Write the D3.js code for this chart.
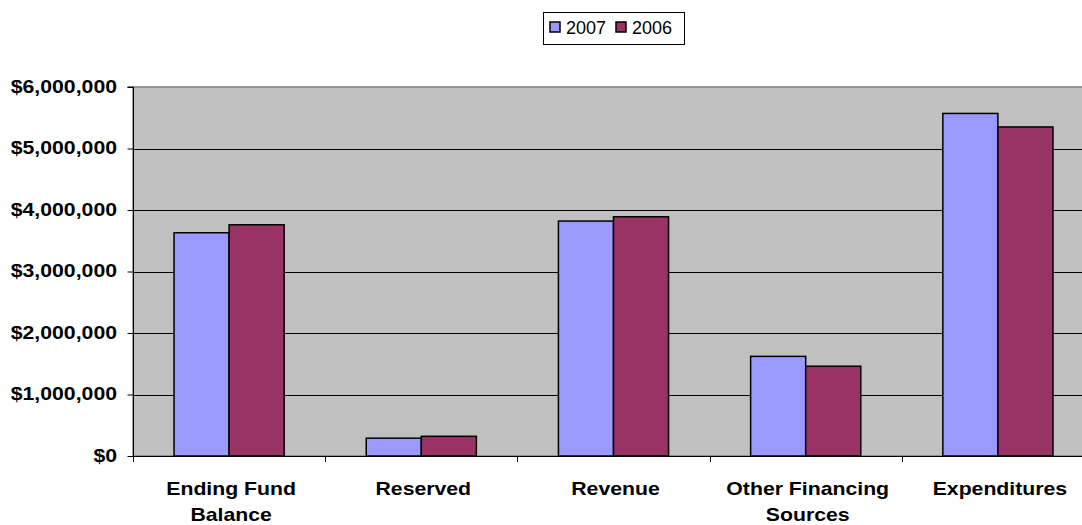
<!DOCTYPE html>
<html>
<head>
<meta charset="utf-8">
<script src="https://cdn.jsdelivr.net/npm/d3@7"></script>
<style>
  body { margin: 0; background: #fff; }
  svg { display: block; font-family: "Liberation Sans", Arial, sans-serif; }
</style>
</head>
<body>
<svg id="chart" width="1082" height="525"></svg>
<script>
const categories = [["Ending Fund", "Balance"], ["Reserved"], ["Revenue"], ["Other Financing", "Sources"], ["Expenditures"]];
const seriesNames = ["2007", "2006"];
const values2007 = [3630000, 290000, 3820000, 1620000, 5570000];
const values2006 = [3760000, 320000, 3890000, 1460000, 5350000];
const yTicks = [0, 1000000, 2000000, 3000000, 4000000, 5000000, 6000000];
const colors = ["#9999FF", "#993366"];

const svg = d3.select("#chart");
const plotLeft = 133, plotRight = 1094, plotTop = 87, plotBottom = 456;
const stretch = 1.18; // labels look horizontally stretched in the original

const x = d3.scaleBand()
    .domain(d3.range(categories.length))
    .range([plotLeft, plotRight])
    .paddingInner(0.427)
    .paddingOuter(0.2135);
const x1 = d3.scaleBand().domain([0, 1]).range([0, x.bandwidth()]);
const y = d3.scaleLinear().domain([0, 6000000]).range([plotBottom, plotTop]);

// plot background
svg.append("rect")
    .attr("x", plotLeft).attr("y", plotTop)
    .attr("width", plotRight - plotLeft).attr("height", plotBottom - plotTop)
    .attr("fill", "#C0C0C0")
    .attr("stroke", "#808080").attr("stroke-width", 1.5);

// gridlines
svg.append("g")
  .selectAll("line")
  .data(yTicks.slice(1, -1))
  .join("line")
    .attr("x1", plotLeft).attr("x2", plotRight)
    .attr("y1", d => Math.round(y(d)) + 0.5).attr("y2", d => Math.round(y(d)) + 0.5)
    .attr("stroke", "#000").attr("stroke-width", 1);

// bars
const rows = categories.map((c, i) => [values2007[i], values2006[i]]);
svg.append("g")
  .selectAll("g")
  .data(rows)
  .join("g")
    .attr("transform", (d, i) => `translate(${x(i)},0)`)
  .selectAll("rect")
  .data(d => d)
  .join("rect")
    .attr("x", (d, j) => x1(j))
    .attr("y", d => y(d))
    .attr("width", x1.bandwidth())
    .attr("height", d => plotBottom - y(d))
    .attr("fill", (d, j) => colors[j])
    .attr("stroke", "#000").attr("stroke-width", 1.5);

// y axis
const yAxis = svg.append("g")
    .attr("transform", `translate(${plotLeft + 0.5},0)`)
    .call(d3.axisLeft(y).tickValues(yTicks).tickSize(6).tickFormat(""));
yAxis.select(".domain").attr("stroke", "#000").attr("d", `M-6,${plotTop}H0V${plotBottom}`);

svg.append("g")
  .selectAll("text")
  .data(yTicks)
  .join("text")
    .attr("transform", d => `translate(117,${y(d) + 5.5}) scale(${stretch},1)`)
    .attr("text-anchor", "end")
    .attr("font-size", 18).attr("font-weight", "bold")
    .text(d => "$" + d3.format(",")(d));

// x axis
const boundaries = d3.range(categories.length + 1).map(i => plotLeft + i * x.step());
svg.append("line")
    .attr("x1", plotLeft).attr("x2", plotRight)
    .attr("y1", plotBottom + 0.5).attr("y2", plotBottom + 0.5)
    .attr("stroke", "#000");
svg.append("g")
  .selectAll("line")
  .data(boundaries)
  .join("line")
    .attr("x1", d => Math.round(d) + 0.5).attr("x2", d => Math.round(d) + 0.5)
    .attr("y1", plotBottom).attr("y2", plotBottom + 6)
    .attr("stroke", "#000");

const xl = svg.append("g")
  .selectAll("g")
  .data(categories)
  .join("g")
    .attr("transform", (d, i) => `translate(${x(i) + x.bandwidth() / 2 + 2},0)`);
xl.selectAll("text")
  .data(d => d)
  .join("text")
    .attr("transform", (d, k) => `translate(0,${495 + k * 25.5}) scale(${stretch},1)`)
    .attr("text-anchor", "middle")
    .attr("font-size", 18).attr("font-weight", "bold")
    .text(d => d);

// legend
const legend = svg.append("g").attr("transform", "translate(543,12)");
legend.append("rect")
    .attr("x", 0.5).attr("y", 0.5).attr("width", 141).attr("height", 32)
    .attr("fill", "#fff").attr("stroke", "#000");
const li = legend.selectAll("g")
  .data(seriesNames)
  .join("g")
    .attr("transform", (d, i) => `translate(${7 + i * 66},10)`);
li.append("rect")
    .attr("width", 10).attr("height", 10)
    .attr("fill", (d, i) => colors[i])
    .attr("stroke", "#000").attr("stroke-width", 1.5);
li.append("text")
    .attr("x", 16).attr("y", 11.5)
    .attr("font-size", 18)
    .text(d => d);
</script>
</body>
</html>
